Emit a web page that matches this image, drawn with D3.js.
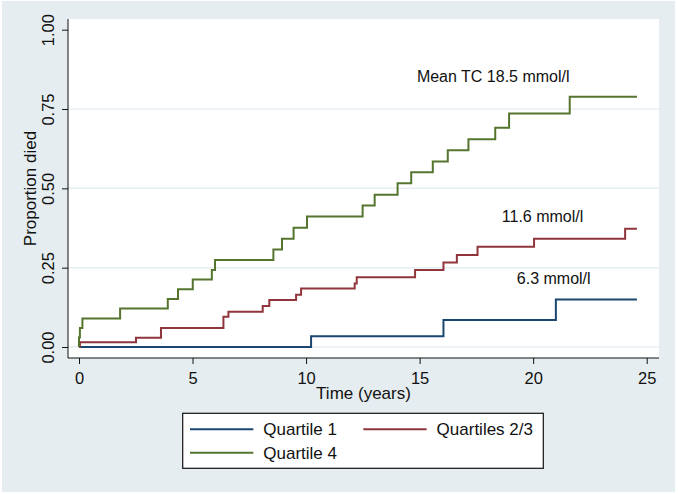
<!DOCTYPE html>
<html>
<head>
<meta charset="utf-8">
<script src="https://cdn.jsdelivr.net/npm/d3@7"></script>
<style>
  body { margin: 0; background: #fff; }
  text { font-family: "Liberation Sans", Arial, sans-serif; fill: #111; }
</style>
</head>
<body>
<div id="chart"></div>
<script>
// step times (years) and cumulative proportion died after each step
const q1Times = [10.22, 16.05, 21.0];
const q1Values = [0.034, 0.085, 0.15];

const q23Times = [0.04, 2.51, 3.61, 6.36, 6.58, 8.09, 8.38, 9.56, 9.78, 12.14, 12.23, 14.8, 16.05, 16.64, 17.55, 20.04, 24.05];
const q23Values = [0.015, 0.029, 0.06, 0.095, 0.111, 0.129, 0.148, 0.165, 0.184, 0.2, 0.22, 0.243, 0.266, 0.29, 0.316, 0.341, 0.373];

const q4Times = [0.0, 0.04, 0.15, 1.81, 3.91, 4.36, 5.01, 5.85, 5.99, 8.56, 8.94, 9.45, 10.04, 12.49, 13.02, 14.03, 14.63, 15.58, 16.24, 17.15, 18.33, 18.94, 21.61];
const q4Values = [0.03, 0.06, 0.09, 0.121, 0.151, 0.182, 0.213, 0.243, 0.274, 0.307, 0.341, 0.376, 0.411, 0.446, 0.48, 0.516, 0.551, 0.585, 0.62, 0.655, 0.691, 0.736, 0.789];

const endTime = 24.57;

const seriesNames = ["Quartile 1", "Quartiles 2/3", "Quartile 4"];
const xTicks = [0, 5, 10, 15, 20, 25];
const yTicks = [0, 0.25, 0.5, 0.75, 1];
const gridTicks = [0, 0.25, 0.5, 0.75];

// annotation labels, placed in data units
const noteText = ["Mean TC 18.5 mmol/l", "11.6 mmol/l", "6.3 mmol/l"];
const noteX = [14.88, 18.62, 19.28];
const noteY = [0.836, 0.395, 0.198];

const width = 678, height = 494;
const colors = ["#1a476f", "#90353b", "#55752f"];

const svg = d3.select("#chart").append("svg")
  .attr("width", width)
  .attr("height", height);

// graph region background
svg.append("rect")
  .attr("x", 2).attr("y", 1)
  .attr("width", 673).attr("height", 491)
  .attr("fill", "#e5edf0");

const plot = { left: 68, right: 659, top: 19, bottom: 358 };

svg.append("rect")
  .attr("x", plot.left).attr("y", plot.top)
  .attr("width", plot.right - plot.left)
  .attr("height", plot.bottom - plot.top)
  .attr("fill", "#fff");

const x = d3.scaleLinear().domain([0, 25]).range([79, 646.7]);
const y = d3.scaleLinear().domain([0, 1]).range([347, 29.7]);

// gridlines
svg.append("g").selectAll("line")
  .data(gridTicks)
  .enter().append("line")
  .attr("x1", plot.left).attr("x2", plot.right)
  .attr("y1", d => y(d)).attr("y2", d => y(d))
  .attr("stroke", "#e6eef2")
  .attr("stroke-width", 1.5);

// axes
const fmt = d3.format(".2f");
const yAxis = svg.append("g")
  .attr("transform", `translate(${plot.left},0)`)
  .call(d3.axisLeft(y).tickValues(yTicks).tickFormat(fmt).tickSize(6).tickSizeOuter(0));
yAxis.select(".domain").attr("d", `M0,${plot.top}V${plot.bottom}`);
yAxis.selectAll("text")
  .attr("x", 0).attr("y", 0).attr("dy", 0)
  .attr("text-anchor", "middle")
  .attr("transform", "translate(-14.5,0) rotate(-90)")
  .style("font-size", "16.5px");

const xAxis = svg.append("g")
  .attr("transform", `translate(0,${plot.bottom})`)
  .call(d3.axisBottom(x).tickValues(xTicks).tickSize(6).tickSizeOuter(0));
xAxis.select(".domain").attr("d", `M${plot.left},0H${plot.right}`);
xAxis.selectAll("text")
  .attr("y", 25.5).attr("dy", 0)
  .style("font-size", "16.5px");

svg.selectAll(".domain, .tick line").attr("stroke", "#111");
svg.selectAll(".tick text").attr("fill", "#111").style("font-family", "'Liberation Sans', Arial, sans-serif");

// axis titles
svg.append("text")
  .attr("transform", `translate(35.5,${(plot.top + plot.bottom) / 2}) rotate(-90)`)
  .attr("text-anchor", "middle")
  .style("font-size", "17px")
  .text("Proportion died");

svg.append("text")
  .attr("x", (plot.left + plot.right) / 2)
  .attr("y", 399)
  .attr("text-anchor", "middle")
  .style("font-size", "17px")
  .text("Time (years)");

// step curves
const makeSteps = (times, values) => {
  const pts = [[0, 0]];
  times.forEach((t, i) => pts.push([t, values[i]]));
  pts.push([endTime, values[values.length - 1]]);
  return pts;
};
const series = [
  makeSteps(q1Times, q1Values),
  makeSteps(q23Times, q23Values),
  makeSteps(q4Times, q4Values)
];

const line = d3.line()
  .x(d => x(d[0]))
  .y(d => y(d[1]))
  .curve(d3.curveStepAfter);

svg.append("g").selectAll("path")
  .data(series)
  .enter().append("path")
  .attr("fill", "none")
  .attr("stroke", (d, i) => colors[i])
  .attr("stroke-width", 2)
  .attr("d", line);

// annotations
svg.append("g").selectAll("text")
  .data(noteText)
  .enter().append("text")
  .attr("x", (d, i) => x(noteX[i]))
  .attr("y", (d, i) => y(noteY[i]))
  .style("font-size", "16px")
  .text(d => d);

// legend
const legend = svg.append("g");
legend.append("rect")
  .attr("x", 182.7).attr("y", 413.3)
  .attr("width", 360.6).attr("height", 55)
  .attr("fill", "#fff")
  .attr("stroke", "#111")
  .attr("stroke-width", 1.2);

const legX = [190, 363.3, 190];
const legY = [429.3, 429.3, 452.7];
const items = legend.selectAll("g.item")
  .data(seriesNames)
  .enter().append("g")
  .attr("class", "item")
  .attr("transform", (d, i) => `translate(${legX[i]},${legY[i]})`);
items.append("line")
  .attr("x1", 0).attr("x2", 63.3)
  .attr("stroke", (d, i) => colors[i])
  .attr("stroke-width", 2);
items.append("text")
  .attr("x", 73.3)
  .attr("y", 6)
  .style("font-size", "17px")
  .text(d => d);
</script>
</body>
</html>
